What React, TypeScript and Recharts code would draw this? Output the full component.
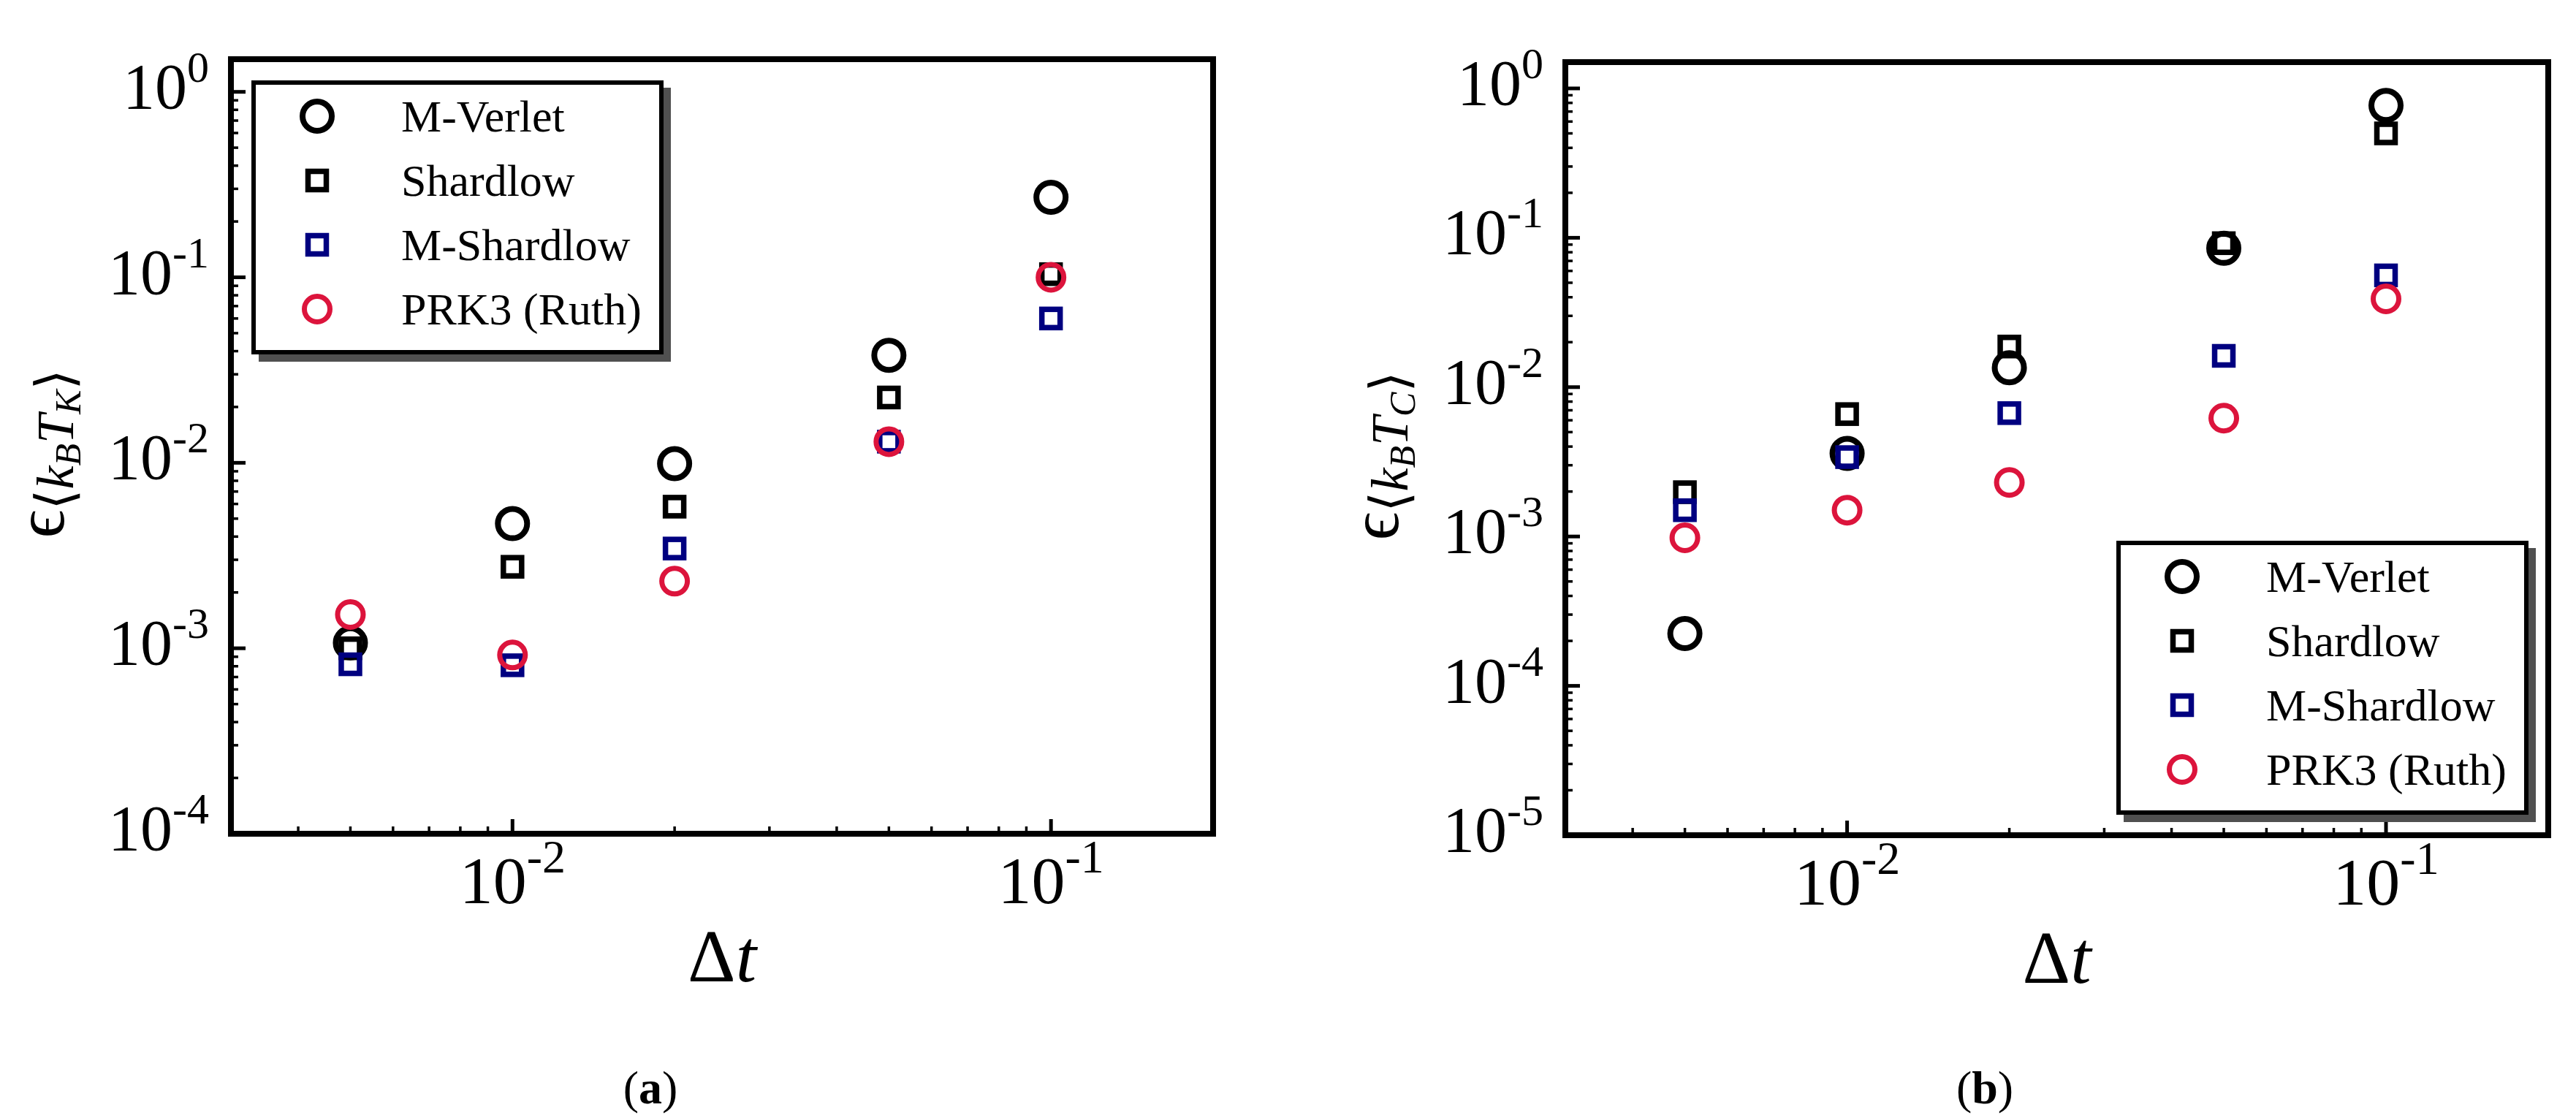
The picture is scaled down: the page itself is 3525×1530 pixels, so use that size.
import React from 'react';
import { ScatterChart, Scatter, XAxis, YAxis, ReferenceArea, Legend } from 'recharts';

// time steps (shared by both panels)
const dtValues = [0.005, 0.01, 0.02, 0.05, 0.1];

// (a) error of <kB T_K>
const kinMVerlet = [1.07e-3, 4.7e-3, 9.9e-3, 3.8e-2, 0.27];
const kinShardlow = [1.0e-3, 2.75e-3, 5.8e-3, 2.25e-2, 0.104];
const kinMShardlow = [8.2e-4, 8.1e-4, 3.45e-3, 1.3e-2, 0.06];
const kinPRK3 = [1.52e-3, 9.2e-4, 2.3e-3, 1.3e-2, 0.1];

// (b) error of <kB T_C>
const confMVerlet = [2.24e-4, 3.6e-3, 1.35e-2, 0.085, 0.77];
const confShardlow = [1.98e-3, 6.6e-3, 1.87e-2, 0.092, 0.5];
const confMShardlow = [1.5e-3, 3.4e-3, 6.7e-3, 1.62e-2, 0.056];
const confPRK3 = [9.8e-4, 1.5e-3, 2.3e-3, 6.2e-3, 0.039];

const seriesNames = ['M-Verlet', 'Shardlow', 'M-Shardlow', 'PRK3 (Ruth)'];

const xDomain = [0.003, 0.2];
const xMajor = [0.01, 0.1];
const xMajorLabels = ['-2', '-1'];
const xMinor = [0.004, 0.005, 0.006, 0.007, 0.008, 0.009, 0.02, 0.03, 0.04, 0.05, 0.06, 0.07, 0.08, 0.09];

const yDomainA = [1e-4, 1.5];
const yMajorA = [1e-4, 1e-3, 1e-2, 1e-1, 1];
const yMajorLabelsA = ['-4', '-3', '-2', '-1', '0'];

const yDomainB = [1e-5, 1.5];
const yMajorB = [1e-5, 1e-4, 1e-3, 1e-2, 1e-1, 1];
const yMajorLabelsB = ['-5', '-4', '-3', '-2', '-1', '0'];

const minorMantissas = [2, 3, 4, 5, 6, 7, 8, 9];

const FONT = "'Liberation Serif', 'Times New Roman', 'DejaVu Serif', serif";

const seriesStyle: Record<string, { shape: 'circle' | 'square'; color: string; size: number; sw: number }> = {
  'M-Verlet': { shape: 'circle', color: '#000000', size: 20, sw: 8 },
  'Shardlow': { shape: 'square', color: '#000000', size: 12.5, sw: 7.5 },
  'M-Shardlow': { shape: 'square', color: '#000080', size: 12.5, sw: 7.5 },
  'PRK3 (Ruth)': { shape: 'circle', color: '#dc143c', size: 17.5, sw: 7 },
};

function Mark({ cx, cy, name }: { cx: number; cy: number; name: string }) {
  const s = seriesStyle[name];
  if (s.shape === 'circle') {
    return <circle cx={cx} cy={cy} r={s.size} fill="none" stroke={s.color} strokeWidth={s.sw} />;
  }
  return (
    <rect x={cx - s.size} y={cy - s.size} width={s.size * 2} height={s.size * 2} fill="none" stroke={s.color} strokeWidth={s.sw} />
  );
}

function AxisTick(props: any) {
  const { x, y, payload, side, majors, labels } = props;
  const v = payload.value;
  const idx = majors.findIndex((m: number) => Math.abs(m - v) <= m * 1e-6);
  const major = idx >= 0;
  const len = major ? 20 : 10;
  const sw = major ? 5 : 3.5;
  let line = null;
  if (side === 'bottom') line = <line x1={x} x2={x} y1={y} y2={y - len} />;
  if (side === 'top') line = <line x1={x} x2={x} y1={y} y2={y + len} />;
  if (side === 'left') line = <line x1={x} x2={x + len} y1={y} y2={y} />;
  if (side === 'right') line = <line x1={x} x2={x - len} y1={y} y2={y} />;
  return (
    <g stroke="#000" strokeWidth={sw}>
      {line}
      {major && labels && side === 'bottom' && (
        <text x={x} y={y + 95} textAnchor="middle" fontFamily={FONT} fontSize={92} fill="#000" stroke="none">
          10<tspan fontSize={64} dy={-42}>{labels[idx]}</tspan>
        </text>
      )}
      {major && labels && side === 'left' && (
        <text x={x - 30} y={y + 22} textAnchor="end" fontFamily={FONT} fontSize={88} fill="#000" stroke="none">
          10<tspan fontSize={60} dy={-36}>{labels[idx]}</tspan>
        </text>
      )}
    </g>
  );
}

function DtLabel(props: any) {
  const vb = props.viewBox || { x: 0, y: 0, width: 0 };
  return (
    <text x={vb.x + vb.width / 2} y={vb.y + 202} textAnchor="middle" fontFamily={FONT} fontSize={102} fill="#000">
      Δ<tspan fontStyle="italic">t</tspan>
    </text>
  );
}

function ErrLabel(props: any) {
  const vb = props.viewBox || { x: 0, y: 0, width: 0, height: 0 };
  const x = vb.x + vb.width - 229;
  const y = vb.y + vb.height / 2 + 10;
  return (
    <text x={x} y={y} transform={`rotate(-90 ${x} ${y})`} textAnchor="middle" fontFamily={FONT} fill="#000">
      <tspan fontSize={96}>ϵ</tspan>
      <tspan fontSize={72} dy={13}>⟨</tspan>
      <tspan fontSize={72} fontStyle="italic">k</tspan>
      <tspan fontSize={50} fontStyle="italic" dy={10}>B</tspan>
      <tspan fontSize={72} fontStyle="italic" dy={-10}>T</tspan>
      <tspan fontSize={50} fontStyle="italic" dy={10}>{props.sub}</tspan>
      <tspan fontSize={72} dy={-10}>⟩</tspan>
    </text>
  );
}

function LegendBox(props: any) {
  const present = (props.payload || []).map((p: any) => p.value);
  const items = seriesNames.filter((n) => present.length === 0 || present.includes(n));
  return (
    <svg width={574} height={385} style={{ display: 'block' }}>
      <rect x={10} y={10} width={564} height={375} fill="#505050" />
      <rect x={3} y={3} width={558} height={369} fill="#fff" stroke="#000" strokeWidth={6} />
      {items.map((n, i) => (
        <g key={n}>
          <Mark cx={90} cy={49 + i * 88} name={n} />
          <text x={205} y={70 + i * 88} fontFamily={FONT} fontSize={62} fill="#000">
            {n}
          </text>
        </g>
      ))}
    </svg>
  );
}

function buildTicks(majors: number[], decadesFrom: number, decadesTo: number, domain: number[]) {
  const minors: number[] = [];
  for (let d = decadesFrom; d < decadesTo; d++) {
    minorMantissas.forEach((m) => {
      const v = m * Math.pow(10, d);
      if (v > domain[0] && v < domain[1]) minors.push(v);
    });
  }
  return [...majors, ...minors].sort((a, b) => a - b);
}

type PanelProps = {
  left: number;
  width: number;
  margin: { top: number; right: number; bottom: number; left: number };
  yDomain: number[];
  yMajor: number[];
  yLabels: string[];
  yDecades: [number, number];
  sets: number[][];
  sub: string;
  legendPos: { left: number; top: number };
};

function Panel({ left, width, margin, yDomain, yMajor, yLabels, yDecades, sets, sub, legendPos }: PanelProps) {
  const xTicks = [...xMajor, ...xMinor].sort((a, b) => a - b);
  const yTicks = buildTicks(yMajor, yDecades[0], yDecades[1], yDomain);
  return (
    <div style={{ position: 'absolute', left, top: 0 }}>
      <ScatterChart width={width} height={1530} margin={margin}>
        <XAxis
          xAxisId="b"
          type="number"
          dataKey="x"
          scale="log"
          domain={xDomain}
          allowDataOverflow
          ticks={xTicks}
          interval={0}
          tick={<AxisTick side="bottom" majors={xMajor} labels={xMajorLabels} />}
          tickLine={false}
          axisLine={false}
          tickSize={0}
          tickMargin={0}
          height={200}
          label={<DtLabel />}
        />
        <XAxis
          xAxisId="t"
          orientation="top"
          type="number"
          dataKey="x"
          scale="log"
          domain={xDomain}
          allowDataOverflow
          ticks={xTicks}
          interval={0}
          tick={<AxisTick side="top" majors={xMajor} />}
          tickLine={false}
          axisLine={false}
          tickSize={0}
          tickMargin={0}
          height={0}
        />
        <YAxis
          yAxisId="l"
          type="number"
          dataKey="y"
          scale="log"
          domain={yDomain}
          allowDataOverflow
          ticks={yTicks}
          interval={0}
          tick={<AxisTick side="left" majors={yMajor} labels={yLabels} />}
          tickLine={false}
          axisLine={false}
          tickSize={0}
          tickMargin={0}
          width={200}
          label={<ErrLabel sub={sub} />}
        />
        <YAxis
          yAxisId="r"
          orientation="right"
          type="number"
          dataKey="y"
          scale="log"
          domain={yDomain}
          allowDataOverflow
          ticks={yTicks}
          interval={0}
          tick={<AxisTick side="right" majors={yMajor} />}
          tickLine={false}
          axisLine={false}
          tickSize={0}
          tickMargin={0}
          width={0}
        />
        <ReferenceArea
          xAxisId="b"
          yAxisId="l"
          x1={xDomain[0]}
          x2={xDomain[1]}
          y1={yDomain[0]}
          y2={yDomain[1]}
          fill="none"
          fillOpacity={0}
          stroke="#000"
          strokeWidth={8}
          strokeOpacity={1}
        />
        {seriesNames.map((name, si) => (
          <Scatter
            key={name}
            name={name}
            xAxisId="b"
            yAxisId="l"
            data={dtValues.map((x, i) => ({ x, y: sets[si][i] }))}
            fill={seriesStyle[name].color}
            isAnimationActive={false}
            shape={(p: any) => <Mark cx={p.cx} cy={p.cy} name={name} />}
          />
        ))}
        <Legend
          layout="vertical"
          align="center"
          verticalAlign="middle"
          width={574}
          height={385}
          wrapperStyle={{ left: legendPos.left, top: legendPos.top, width: 574, height: 385 }}
          content={<LegendBox />}
        />
      </ScatterChart>
    </div>
  );
}

export default function App() {
  return (
    <div style={{ position: 'absolute', left: 0, top: 0, width: 3525, height: 1530, background: '#fff' }}>
      <Panel
        left={0}
        width={1760}
        margin={{ top: 81, right: 100, bottom: 189, left: 116 }}
        yDomain={yDomainA}
        yMajor={yMajorA}
        yLabels={yMajorLabelsA}
        yDecades={[-4, 0]}
        sets={[kinMVerlet, kinShardlow, kinMShardlow, kinPRK3]}
        sub="K"
        legendPos={{ left: 344, top: 110 }}
      />
      <Panel
        left={1760}
        width={1765}
        margin={{ top: 85, right: 38, bottom: 187, left: 182 }}
        yDomain={yDomainB}
        yMajor={yMajorB}
        yLabels={yMajorLabelsB}
        yDecades={[-5, 0]}
        sets={[confMVerlet, confShardlow, confMShardlow, confPRK3]}
        sub="C"
        legendPos={{ left: 1136, top: 740 }}
      />
      <svg width={3525} height={1530} style={{ position: 'absolute', left: 0, top: 0, pointerEvents: 'none' }}>
        <text x={890} y={1510} textAnchor="middle" fontFamily={FONT} fontSize={64} fill="#000">
          (<tspan fontWeight="bold">a</tspan>)
        </text>
        <text x={2716} y={1510} textAnchor="middle" fontFamily={FONT} fontSize={64} fill="#000">
          (<tspan fontWeight="bold">b</tspan>)
        </text>
      </svg>
    </div>
  );
}
